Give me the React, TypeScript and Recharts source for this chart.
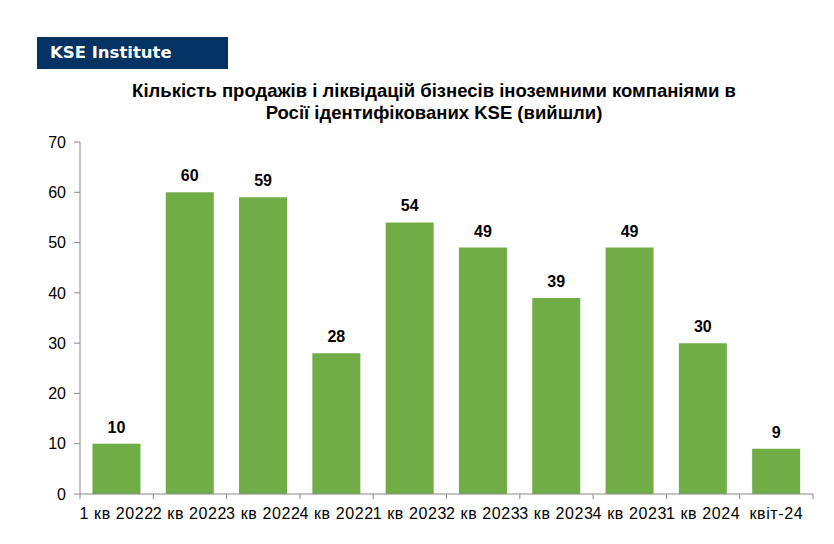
import React from "react";
import { BarChart, Bar, XAxis, YAxis, LabelList } from "recharts";

const quarters = [
  "1 кв 2022",
  "2 кв 2022",
  "3 кв 2022",
  "4 кв 2022",
  "1 кв 2023",
  "2 кв 2023",
  "3 кв 2023",
  "4 кв 2023",
  "1 кв 2024",
  "квіт-24",
];
const exits = [10, 60, 59, 28, 54, 49, 39, 49, 30, 9];
const yTicks = [0, 10, 20, 30, 40, 50, 60, 70];

const chartData = quarters.map((q, i) => ({ quarter: q, exits: exits[i] }));

const font = "'Liberation Sans', Arial, sans-serif";
const axisColor = "#888";

// category axis: label under the bar, tick marks on the band edges (like Excel)
function QuarterTick(props: any) {
  const { x, y, payload, index } = props;
  const half = payload.offset || 0;
  const last = index === quarters.length - 1;
  return (
    <g>
      <line x1={x - half} x2={x - half} y1={y - 10} y2={y - 5} stroke={axisColor} />
      {last && <line x1={x + half} x2={x + half} y1={y - 10} y2={y - 5} stroke={axisColor} />}
      <text
        x={x}
        y={y + 15}
        textAnchor="middle"
        fill="#000"
        fontSize={16}
        fontFamily={font}
        letterSpacing={0.6}
      >
        {payload.value}
      </text>
    </g>
  );
}

export default function App() {
  return (
    <div style={{ position: "absolute", left: 0, top: 0, width: 834, height: 544, background: "#fff", fontFamily: font }}>
      <div
        style={{
          position: "absolute",
          left: 37,
          top: 37,
          width: 191,
          height: 32,
          background: "#023362",
          color: "#fff",
          fontFamily: "'DejaVu Sans', Verdana, sans-serif",
          fontWeight: "bold",
          fontSize: 16.5,
          lineHeight: "32px",
          paddingLeft: 13,
          boxSizing: "border-box",
        }}
      >
        KSE Institute
      </div>
      <div
        style={{
          position: "absolute",
          left: 0,
          top: 80,
          width: 868,
          textAlign: "center",
          fontFamily: "'Liberation Sans Narrow', 'Liberation Sans', Arial, sans-serif",
          fontWeight: "bold",
          fontSize: 18.5,
          lineHeight: "22px",
          color: "#000",
        }}
      >
        Кількість продажів і ліквідацій бізнесів іноземними компаніями в
        <br />
        Росії ідентифікованих KSE (вийшли)
      </div>
      <div style={{ position: "absolute", left: 0, top: 0 }}>
        <BarChart
          width={834}
          height={544}
          data={chartData}
          margin={{ top: 142, right: 21, bottom: 20, left: 0 }}
          barCategoryGap="17%"
        >
          <XAxis
            dataKey="quarter"
            interval={0}
            tickLine={false}
            axisLine={{ stroke: axisColor }}
            tickSize={6}
            tickMargin={4}
            tick={<QuarterTick />}
            height={30}
          />
          <YAxis
            domain={[0, 70]}
            ticks={yTicks}
            width={80}
            tickLine={{ stroke: axisColor }}
            axisLine={{ stroke: axisColor }}
            tickSize={6}
            tickMargin={8}
            tick={{ fill: "#000", fontSize: 16, fontFamily: font }}
          />
          <Bar dataKey="exits" fill="#70AD47" isAnimationActive={false}>
            <LabelList
              dataKey="exits"
              position="top"
              offset={11}
              style={{ fill: "#000", fontSize: 16, fontWeight: "bold", fontFamily: font }}
            />
          </Bar>
        </BarChart>
      </div>
    </div>
  );
}
